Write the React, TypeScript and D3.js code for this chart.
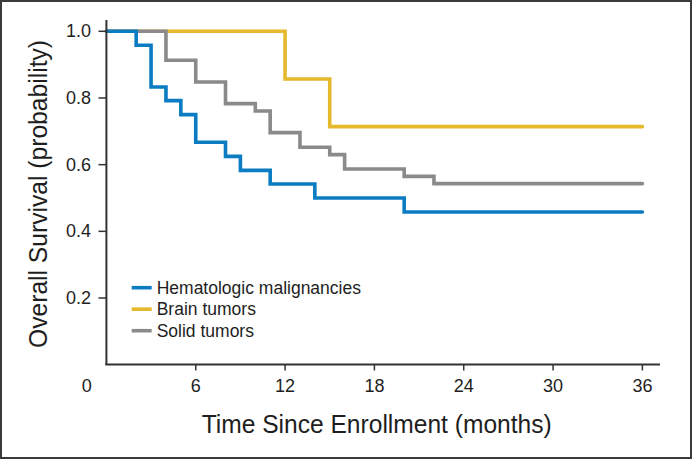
import React from "react";
import * as d3 from "d3";

const W = 692;
const H = 459;

const hemaTimes = [0, 2, 3, 4, 5, 6, 8, 9, 11, 14, 20, 36];
const hemaSurv = [1.0, 0.958, 0.833, 0.792, 0.75, 0.667, 0.625, 0.583, 0.542, 0.5, 0.458, 0.458];

const brainTimes = [0, 12, 15, 36];
const brainSurv = [1.0, 0.857, 0.714, 0.714];

const solidTimes = [0, 4, 6, 8, 10, 11, 13, 15, 16, 20, 22, 36];
const solidSurv = [1.0, 0.913, 0.848, 0.783, 0.761, 0.696, 0.652, 0.63, 0.587, 0.565, 0.543, 0.543];

const seriesNames = ["Hematologic malignancies", "Brain tumors", "Solid tumors"];
const seriesColors = ["#0b7cc2", "#e6b82c", "#8a8a8c"];

const xTicks = [6, 12, 18, 24, 30, 36];
const yTicks = [0.2, 0.4, 0.6, 0.8, 1.0];

export default function App() {
  const x = d3.scaleLinear().domain([0, 36]).range([106.4, 642.4]);
  const y = d3.scaleLinear().domain([0, 1]).range([364.7, 31.3]);

  const line = d3
    .line<[number, number]>()
    .x((d) => x(d[0]))
    .y((d) => y(d[1]))
    .curve(d3.curveStepAfter);

  const series = [
    { times: hemaTimes, surv: hemaSurv },
    { times: brainTimes, surv: brainSurv },
    { times: solidTimes, surv: solidSurv },
  ];
  const drawOrder = [1, 2, 0];

  const axisColor = "#333";
  const tickFont = "'Liberation Sans', Arial, sans-serif";

  return (
    <svg
      width={W}
      height={H}
      style={{ position: "absolute", left: 0, top: 0, background: "#fff" }}
    >
      <rect x={1} y={1} width={W - 2} height={H - 2} fill="#fff" stroke="#3a3a3a" strokeWidth={2} />

      {drawOrder.map((i) => {
        const s = series[i];
        const pts: [number, number][] = s.times.map((t, k) => [t, s.surv[k]]);
        return (
          <path
            key={i}
            d={line(pts) || ""}
            fill="none"
            stroke={seriesColors[i]}
            strokeWidth={3.6}
            strokeLinecap="round"
            strokeLinejoin="miter"
          />
        );
      })}

      {/* axes */}
      <line x1={106.4} x2={106.4} y1={20} y2={365} stroke={axisColor} strokeWidth={2} />
      <line x1={105.4} x2={660} y1={364.5} y2={364.5} stroke={axisColor} strokeWidth={2} />

      {yTicks.map((t) => (
        <g key={"y" + t}>
          <line x1={98.5} x2={106.4} y1={y(t)} y2={y(t)} stroke={axisColor} strokeWidth={1.5} />
          <text
            x={91}
            y={y(t)}
            textAnchor="end"
            dominantBaseline="central"
            fontFamily={tickFont}
            fontSize={18}
            fill="#1e1e1e"
          >
            {t.toFixed(1)}
          </text>
        </g>
      ))}

      {xTicks.map((t) => (
        <g key={"x" + t}>
          <line x1={x(t)} x2={x(t)} y1={364.5} y2={370.5} stroke={axisColor} strokeWidth={1.5} />
          <text x={x(t)} y={392} textAnchor="middle" fontFamily={tickFont} fontSize={18} fill="#1e1e1e">
            {t}
          </text>
        </g>
      ))}
      <text x={x(0) - 19.7} y={392} textAnchor="middle" fontFamily={tickFont} fontSize={18} fill="#1e1e1e">
        0
      </text>

      {/* axis titles */}
      <text
        x={376.7}
        y={433}
        textAnchor="middle"
        fontFamily={tickFont}
        fontSize={26}
        textLength={350}
        lengthAdjust="spacingAndGlyphs"
        fill="#1e1e1e"
      >
        Time Since Enrollment (months)
      </text>
      <text
        transform={`translate(47,194) rotate(-90)`}
        textAnchor="middle"
        fontFamily={tickFont}
        fontSize={26}
        textLength={308}
        lengthAdjust="spacingAndGlyphs"
        fill="#1e1e1e"
      >
        Overall Survival (probability)
      </text>

      {/* legend */}
      {seriesNames.map((name, i) => {
        const ly = 287.7 + i * 21.5;
        return (
          <g key={name}>
            <line x1={131.7} x2={151.7} y1={ly} y2={ly} stroke={seriesColors[i]} strokeWidth={3.6} />
            <text
              x={156.7}
              y={ly}
              dominantBaseline="central"
              fontFamily={tickFont}
              fontSize={17.5}
              fill="#1e1e1e"
            >
              {name}
            </text>
          </g>
        );
      })}
    </svg>
  );
}
